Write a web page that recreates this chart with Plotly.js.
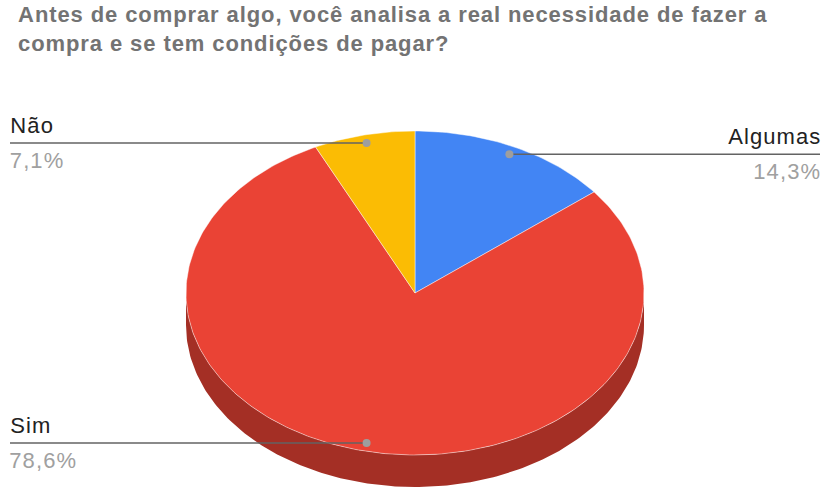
<!DOCTYPE html>
<html>
<head>
<meta charset="utf-8">
<script src="https://cdn.plot.ly/plotly-3.0.1.min.js"></script>
<style>
  html, body { margin: 0; padding: 0; background: #fff; }
  #chart { width: 823px; height: 488px; }
  #chart .gtitle { letter-spacing: 0.9px; }
  #chart .annotation-text { letter-spacing: 1.1px; }
</style>
</head>
<body>
<div id="chart"></div>
<script>
// Survey answers (number of respondents)
const categories = ['Algumas', 'Sim', 'Não'];
const counts = [2, 11, 1];
const sliceColors = ['#4285f4', '#ea4335', '#fbbc04'];
const titleText = 'Antes de comprar algo, você analisa a real necessidade de fazer a<br>compra e se tem condições de pagar?';

// Tilted-disc geometry (axis units equal screen pixels)
const CX = 415, CY = 293, RX = 229, RY = 162, DEPTH = 32;
const DOT_R = 0.95;

function pt(angDeg, k, dy) {
  const a = angDeg * Math.PI / 180;
  return [CX + k * RX * Math.sin(a), CY - k * RY * Math.cos(a) + (dy || 0)];
}

function arc(a1, a2, dy) {
  const xs = [], ys = [];
  const n = Math.max(2, Math.ceil(Math.abs(a2 - a1)));
  for (let i = 0; i <= n; i++) {
    const p = pt(a1 + (a2 - a1) * i / n, 1, dy);
    xs.push(p[0]); ys.push(p[1]);
  }
  return [xs, ys];
}

function darken(hex, f) {
  const n = parseInt(hex.slice(1), 16);
  const r = Math.round(((n >> 16) & 255) * f);
  const g = Math.round(((n >> 8) & 255) * f);
  const b = Math.round((n & 255) * f);
  return `rgb(${r},${g},${b})`;
}

const total = counts.reduce((s, v) => s + v, 0);
const slices = [];
let start = 0;
counts.forEach((v, i) => {
  const sweep = v / total * 360;
  slices.push({ a1: start, a2: start + sweep, mid: start + sweep / 2, i });
  start += sweep;
});

const traces = [];

// Rim of the disc: only the front half (90°..270°) is visible
slices.forEach(s => {
  const lo = Math.max(s.a1, 90), hi = Math.min(s.a2, 270);
  if (hi <= lo) return;
  const top = arc(lo, hi, 0);
  const bot = arc(hi, lo, DEPTH);
  traces.push({
    type: 'scatter', mode: 'lines', fill: 'toself',
    x: top[0].concat(bot[0]), y: top[1].concat(bot[1]),
    fillcolor: darken(sliceColors[s.i], 0.7),
    line: { width: 0, color: darken(sliceColors[s.i], 0.7) },
    hoverinfo: 'skip', showlegend: false
  });
});

// Top face wedges
slices.forEach(s => {
  const a = arc(s.a1, s.a2, 0);
  traces.push({
    type: 'scatter', mode: 'lines', fill: 'toself',
    x: [CX].concat(a[0], [CX]), y: [CY].concat(a[1], [CY]),
    fillcolor: sliceColors[s.i],
    line: { width: 1, color: 'rgba(255,255,255,0.45)' },
    hoverinfo: 'skip', showlegend: false
  });
});

// Leader lines and labels
const annotations = [];
const LEFT_X = 10, RIGHT_X = 820;
slices.forEach(s => {
  const p = pt(s.mid, DOT_R, 0);
  const onRight = p[0] > CX;
  const endX = onRight ? RIGHT_X : LEFT_X;
  traces.push({
    type: 'scatter', mode: 'lines',
    x: [endX, p[0]], y: [p[1], p[1]],
    line: { color: '#636363', width: 1.5 },
    hoverinfo: 'skip', showlegend: false
  });
  traces.push({
    type: 'scatter', mode: 'markers',
    x: [p[0]], y: [p[1]],
    marker: { color: '#9e9e9e', size: 8 },
    hoverinfo: 'skip', showlegend: false
  });
  const pct = (counts[s.i] / total * 100).toFixed(1).replace('.', ',') + '%';
  annotations.push({
    x: endX, y: p[1] - 3, xref: 'x', yref: 'y',
    xanchor: onRight ? 'right' : 'left', yanchor: 'bottom',
    text: categories[s.i], showarrow: false,
    font: { family: 'Arial, "Liberation Sans", sans-serif', size: 22, color: '#222222' }
  });
  annotations.push({
    x: endX, y: p[1] + 3, xref: 'x', yref: 'y',
    xanchor: onRight ? 'right' : 'left', yanchor: 'top',
    text: pct, showarrow: false,
    font: { family: 'Arial, "Liberation Sans", sans-serif', size: 22, color: '#a0a0a0' }
  });
});

const layout = {
  width: 823, height: 488,
  margin: { l: 0, r: 0, t: 0, b: 0 },
  paper_bgcolor: '#ffffff', plot_bgcolor: '#ffffff',
  title: {
    text: '<b>' + titleText + '</b>',
    x: 0.022, xanchor: 'left', xref: 'container',
    y: 0.955, yanchor: 'top', yref: 'container',
    font: { family: 'Arial, "Liberation Sans", sans-serif', size: 22, color: '#737373' }
  },
  xaxis: { range: [0, 823], visible: false, fixedrange: true },
  yaxis: { range: [488, 0], visible: false, fixedrange: true },
  annotations: annotations,
  showlegend: false
};

Plotly.newPlot('chart', traces, layout, { staticPlot: true, displayModeBar: false });
</script>
</body>
</html>
